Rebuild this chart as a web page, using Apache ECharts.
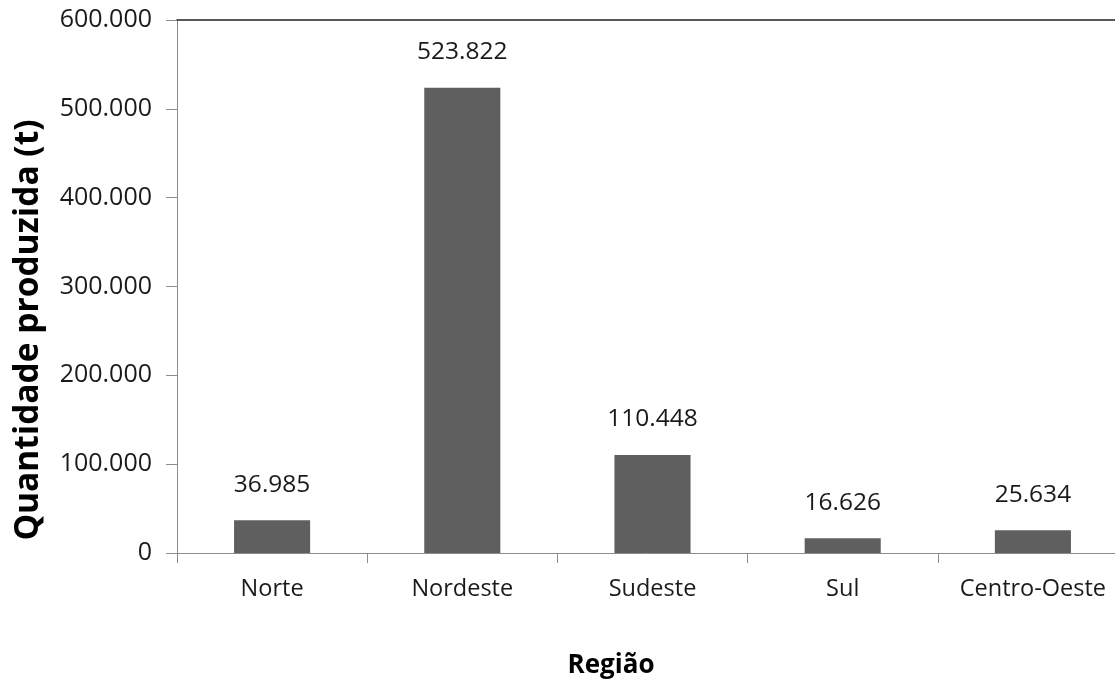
<!DOCTYPE html>
<html>
<head>
<meta charset="utf-8">
<script src="https://cdn.jsdelivr.net/npm/echarts@6/dist/echarts.min.js"></script>
<style>
  html, body { margin: 0; padding: 0; background: #fff; }
  #chart { width: 1115px; height: 681px; }
</style>
</head>
<body>
<div id="chart"></div>
<script>
// Production by region (tonnes)
const regions = ['Norte', 'Nordeste', 'Sudeste', 'Sul', 'Centro-Oeste'];
const production = [36985, 523822, 110448, 16626, 25634];
const yTicks = [0, 100000, 200000, 300000, 400000, 500000, 600000];

const FONT = '"Open Sans", "Liberation Sans", sans-serif';

// Brazilian thousands separator: 523822 -> "523.822"
function fmt(v) {
  return String(Math.round(v)).replace(/\B(?=(\d{3})+(?!\d))/g, '.');
}

const chart = echarts.init(document.getElementById('chart'));
chart.setOption({
  animation: false,
  backgroundColor: '#ffffff',
  // plot area runs past the right edge of the canvas
  grid: {
    left: 177, top: 20, width: 951, height: 533,
    containLabel: false, outerBoundsMode: 'none'
  },
  title: {
    text: 'Região',
    left: 606, top: 648, textAlign: 'center',
    textStyle: { fontFamily: FONT, fontSize: 26, fontWeight: 'bold', color: '#000' }
  },
  graphic: [{
    type: 'text',
    x: 28, y: 330,
    rotation: Math.PI / 2,
    style: {
      text: 'Quantidade produzida (t)',
      fontFamily: FONT, fontSize: 33.5, fontWeight: 'bold', fill: '#000',
      textAlign: 'center', textVerticalAlign: 'middle'
    }
  }],
  xAxis: [{
    type: 'category',
    data: regions,
    axisLine: { lineStyle: { color: '#8c8c8c', width: 1 } },
    axisTick: { show: true, length: 10, alignWithLabel: false, lineStyle: { color: '#8c8c8c' } },
    axisLabel: { interval: 0, hideOverlap: false, fontFamily: FONT, fontSize: 23.5, color: '#1a1a1a', margin: 24 },
    splitLine: { show: false }
  }, {
    type: 'category',
    position: 'top',
    data: regions,
    axisLine: { show: true, lineStyle: { color: '#222', width: 1.5 } },
    axisTick: { show: false },
    axisLabel: { show: false }
  }],
  yAxis: {
    type: 'value',
    min: yTicks[0],
    max: yTicks[yTicks.length - 1],
    interval: yTicks[1] - yTicks[0],
    axisLine: { show: true, lineStyle: { color: '#8c8c8c', width: 1 } },
    axisTick: { show: true, length: 11, lineStyle: { color: '#8c8c8c' } },
    axisLabel: { fontFamily: FONT, fontSize: 25, color: '#1a1a1a', margin: 25, formatter: fmt },
    splitLine: { show: false }
  },
  series: [{
    type: 'bar',
    data: production,
    barWidth: '40%',
    itemStyle: { color: '#5f5f5f' },
    label: {
      show: true,
      position: 'top',
      distance: 23,
      fontFamily: FONT,
      fontSize: 24.5,
      color: '#1a1a1a',
      formatter: p => fmt(p.value)
    }
  }]
});
</script>
</body>
</html>
